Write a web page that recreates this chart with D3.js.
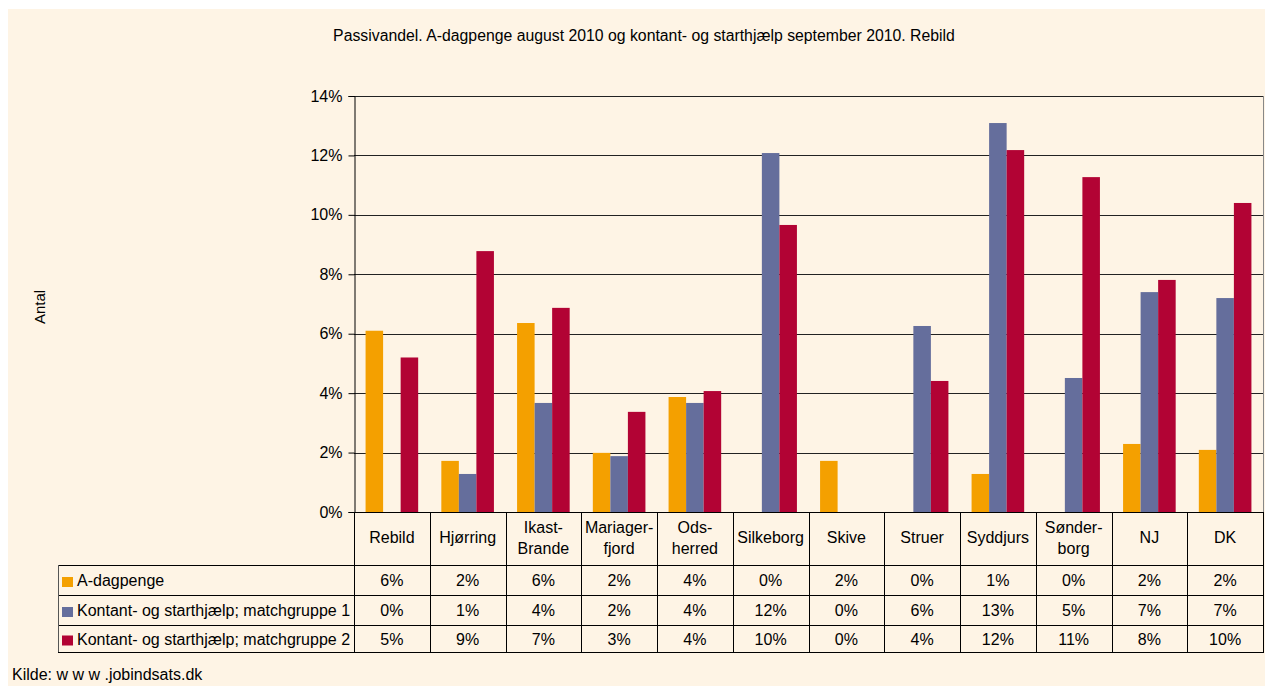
<!DOCTYPE html>
<html>
<head>
<meta charset="utf-8">
<script src="https://cdn.jsdelivr.net/npm/d3@7"></script>
<style>
  html, body { margin: 0; padding: 0; background: #ffffff; }
  svg { display: block; }
  text { font-family: "Liberation Sans", Arial, sans-serif; fill: #000; }
</style>
</head>
<body>
<svg id="chart" width="1265" height="686"></svg>
<script>
// ---- data ----
const categories = [
  ["Rebild"], ["Hjørring"], ["Ikast-", "Brande"], ["Mariager-", "fjord"], ["Ods-", "herred"],
  ["Silkeborg"], ["Skive"], ["Struer"], ["Syddjurs"], ["Sønder-", "borg"], ["NJ"], ["DK"]
];
const seriesNames = [
  "A-dagpenge",
  "Kontant- og starthjælp; matchgruppe 1",
  "Kontant- og starthjælp; matchgruppe 2"
];
const aDagpenge   = [6.1, 1.72, 6.36, 1.99, 3.87, 0, 1.72, 0, 1.28, 0, 2.29, 2.09];
const matchgruppe1 = [0, 1.28, 3.67, 1.88, 3.67, 12.08, 0, 6.26, 13.09, 4.51, 7.40, 7.20];
const matchgruppe2 = [5.2, 8.78, 6.87, 3.37, 4.07, 9.66, 0, 4.41, 12.18, 11.27, 7.81, 10.40];
const yTicks = [0, 2, 4, 6, 8, 10, 12, 14];
const colors = ["#F4A000", "#656E9C", "#B20334"];
const titleText = "Passivandel. A-dagpenge august 2010 og kontant- og starthjælp september 2010. Rebild";
const yTitle = "Antal";
const sourceText = "Kilde: w w w .jobindsats.dk";

const series = [aDagpenge, matchgruppe1, matchgruppe2];

// ---- layout ----
const svg = d3.select("#chart");
svg.append("rect").attr("x", 8).attr("y", 9).attr("width", 1257).attr("height", 677).attr("fill", "#FEF4E5");

const pLeft = 354, pRight = 1263, pTop = 96, pBottom = 512;
const x = d3.scaleBand().domain(d3.range(categories.length)).range([pLeft, pRight]).paddingInner(0).paddingOuter(0);
const y = d3.scaleLinear().domain([0, 14]).range([pBottom, pTop]);
const xs = d3.scaleBand().domain(d3.range(3)).range([0, x.bandwidth()]).paddingInner(0).paddingOuter(0.66);

// title
svg.append("text").attr("x", 644).attr("y", 41).attr("text-anchor", "middle")
  .style("font-size", "15.8px").text(titleText);

// gridlines
svg.append("g").selectAll("line").data(yTicks.filter(d => d > 0)).join("line")
  .attr("x1", pLeft).attr("x2", pRight)
  .attr("y1", d => Math.round(y(d)) + 0.5).attr("y2", d => Math.round(y(d)) + 0.5)
  .attr("stroke", "#222").attr("stroke-width", 1);

// right border of plot
svg.append("line").attr("x1", pRight + 0.5).attr("x2", pRight + 0.5).attr("y1", pTop).attr("y2", pBottom)
  .attr("stroke", "#888");

// bars
const groups = svg.append("g").selectAll("g").data(categories).join("g")
  .attr("transform", (d, i) => `translate(${x(i)},0)`);
groups.selectAll("rect").data((d, i) => series.map((s, k) => ({ k, v: s[i] }))).join("rect")
  .attr("x", d => xs(d.k)).attr("width", xs.bandwidth())
  .attr("y", d => y(d.v)).attr("height", d => y(0) - y(d.v))
  .attr("fill", d => colors[d.k]);

// y axis
const yAxis = d3.axisLeft(y).tickValues(yTicks).tickFormat(d => d + "%").tickSize(6).tickPadding(6);
const ya = svg.append("g").attr("transform", `translate(${pLeft + 0.5},0)`).call(yAxis);
ya.select(".domain").attr("stroke", "#000");
ya.selectAll(".tick line").attr("stroke", "#000");
ya.selectAll(".tick text").style("font-size", "16px").style("font-family", "Liberation Sans, Arial, sans-serif").attr("fill", "#000");

// baseline
svg.append("line").attr("x1", pLeft).attr("x2", pRight).attr("y1", pBottom + 0.5).attr("y2", pBottom + 0.5).attr("stroke", "#000");

// y title
svg.append("text").attr("transform", "translate(45,307) rotate(-90)").attr("text-anchor", "middle")
  .style("font-size", "15px").text(yTitle);

// ---- data table ----
const rowTop = [565, 595, 625];
const rowBottom = 652;
const tableLeft = 58;
const tbl = svg.append("g");

// header vertical lines
tbl.selectAll("line.v").data(d3.range(categories.length + 1)).join("line")
  .attr("x1", i => Math.round(i < categories.length ? x(i) : pRight) + 0.5)
  .attr("x2", i => Math.round(i < categories.length ? x(i) : pRight) + 0.5)
  .attr("y1", pBottom).attr("y2", rowBottom)
  .attr("stroke", "#000");
// horizontal lines
tbl.selectAll("line.h").data(rowTop.concat([rowBottom])).join("line")
  .attr("x1", tableLeft).attr("x2", pRight + 1)
  .attr("y1", d => d + 0.5).attr("y2", d => d + 0.5)
  .attr("stroke", "#000");
// legend cell left border
tbl.append("line").attr("x1", tableLeft + 0.5).attr("x2", tableLeft + 0.5)
  .attr("y1", rowTop[0]).attr("y2", rowBottom).attr("stroke", "#555");

// category labels
const hdr = tbl.selectAll("text.cat").data(categories).join("text")
  .attr("text-anchor", "middle").style("font-size", "16px")
  .attr("x", (d, i) => x(i) + x.bandwidth() / 2)
  .attr("y", d => d.length === 1 ? 543 : 533);
hdr.selectAll("tspan").data(d => d).join("tspan")
  .attr("x", function () { return d3.select(this.parentNode).attr("x"); })
  .attr("dy", (d, j) => j === 0 ? 0 : 21)
  .text(d => d);

// legend cells
const fmt = v => Math.round(v) + "%";
seriesNames.forEach((name, k) => {
  const cy = (rowTop[k] + (k < 2 ? rowTop[k + 1] : rowBottom)) / 2;
  tbl.append("rect").attr("x", 62).attr("y", cy - 3).attr("width", 11).attr("height", 10).attr("fill", colors[k]);
  tbl.append("text").attr("x", 77).attr("y", cy + 6).style("font-size", "16px").text(name);
  tbl.selectAll(null).data(series[k]).join("text")
    .attr("text-anchor", "middle").style("font-size", "16px")
    .attr("x", (d, i) => x(i) + x.bandwidth() / 2)
    .attr("y", cy + 6)
    .text(fmt);
});

// source
svg.append("text").attr("x", 12).attr("y", 680).style("font-size", "16px").text(sourceText);
</script>
</body>
</html>
